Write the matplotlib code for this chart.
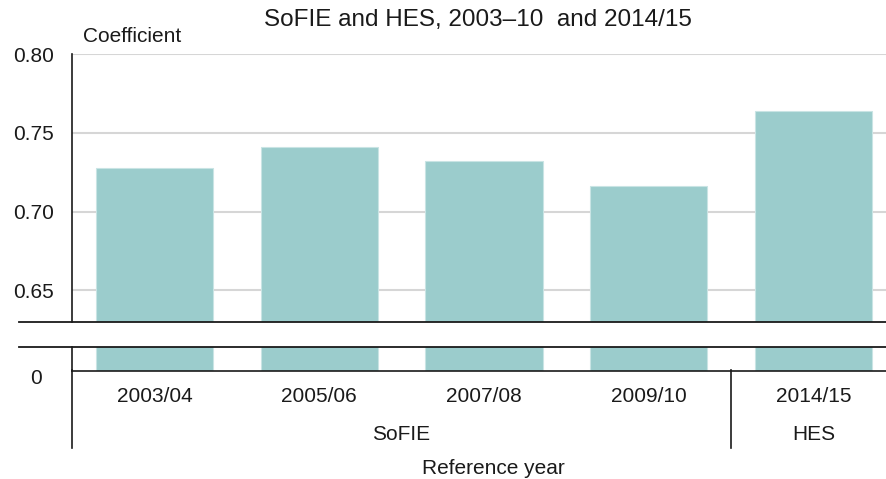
import matplotlib.pyplot as plt
from matplotlib.lines import Line2D

plt.rcParams['font.family'] = ['Liberation Sans', 'DejaVu Sans']

years = ["2003/04", "2005/06", "2007/08", "2009/10", "2014/15"]
values = [0.728, 0.741, 0.732, 0.716, 0.764]
groups = ["SoFIE", "HES"]
group_sizes = [4, 1]
yticks = [0.65, 0.70, 0.75, 0.80]

W, H = 886, 479
bar_color = "#9bcccc"
txt = "#1a1a1a"
fs = 15

fig = plt.figure(figsize=(W / 100, H / 100), dpi=100)


def fx(px):
    return px / W


def fy(py):
    return 1 - py / H


def data_to_fx(ax, xv):
    return ax.transData.transform((xv, 0))[0] / fig.dpi / fig.get_figwidth()


# upper (broken) axes and the short strip holding zero
left, right = 72, 896
ax1 = fig.add_axes([fx(left), fy(322), fx(right - left), fy(54) - fy(322)])
ax2 = fig.add_axes([fx(left), fy(370.5), fx(right - left), fy(346.5) - fy(370.5)])

x = range(len(years))
for ax in (ax1, ax2):
    ax.bar(x, values, width=0.71, color=bar_color, edgecolor="#c9e4e4", linewidth=0.8, zorder=2)
    ax.set_xlim(-0.5, len(years) - 0.5)
    for s in ("top", "right"):
        ax.spines[s].set_visible(False)
    ax.spines["left"].set_color(txt)
    ax.spines["left"].set_linewidth(1.2)
    ax.tick_params(length=0)
    ax.set_xticks([])

ax1.set_ylim(0.63, 0.80)
ax1.set_yticks(yticks)
ax1.set_yticklabels([f"{v:.2f}" for v in yticks], fontsize=fs, color=txt)
ax1.tick_params(axis="y", pad=13)
ax1.grid(axis="y", color="#d6d6d6", linewidth=1.5, zorder=0)
ax1.set_axisbelow(True)
ax1.spines["bottom"].set_visible(False)

ax2.set_ylim(0, 0.01)
ax2.set_yticks([])
ax2.spines["bottom"].set_color(txt)
ax2.spines["bottom"].set_linewidth(1.2)

# break lines
for py in (322, 346.5):
    fig.add_artist(Line2D([fx(19), 1], [fy(py), fy(py)], color=txt, linewidth=1.3))

# category axis lines below zero
fig.add_artist(Line2D([fx(left), fx(left)], [fy(370), fy(448)], color=txt, linewidth=1.2))
sep = data_to_fx(ax2, 3.5)
fig.add_artist(Line2D([sep, sep], [fy(370), fy(448)], color=txt, linewidth=1.2))

fig.text(fx(36), fy(378), "0", fontsize=fs, color=txt, ha="center", va="center")

# category labels
for i, yr in enumerate(years):
    fig.text(data_to_fx(ax2, i), fy(397), yr, fontsize=fs, color=txt, ha="center", va="center")

start = 0
for g, n in zip(groups, group_sizes):
    mid = start + (n - 1) / 2
    fig.text(data_to_fx(ax2, mid), fy(434), g, fontsize=fs, color=txt, ha="center", va="center")
    start += n

fig.text(fx(493), fy(468), "Reference year", fontsize=fs, color=txt, ha="center", va="center")
fig.text(fx(83), fy(36), "Coefficient", fontsize=fs, color=txt, ha="left", va="center")
fig.text(fx(478), fy(20), "SoFIE and HES, 2003\u201310  and 2014/15", fontsize=17.5,
         color=txt, ha="center", va="center")

fig.savefig("out.png", dpi=100)
